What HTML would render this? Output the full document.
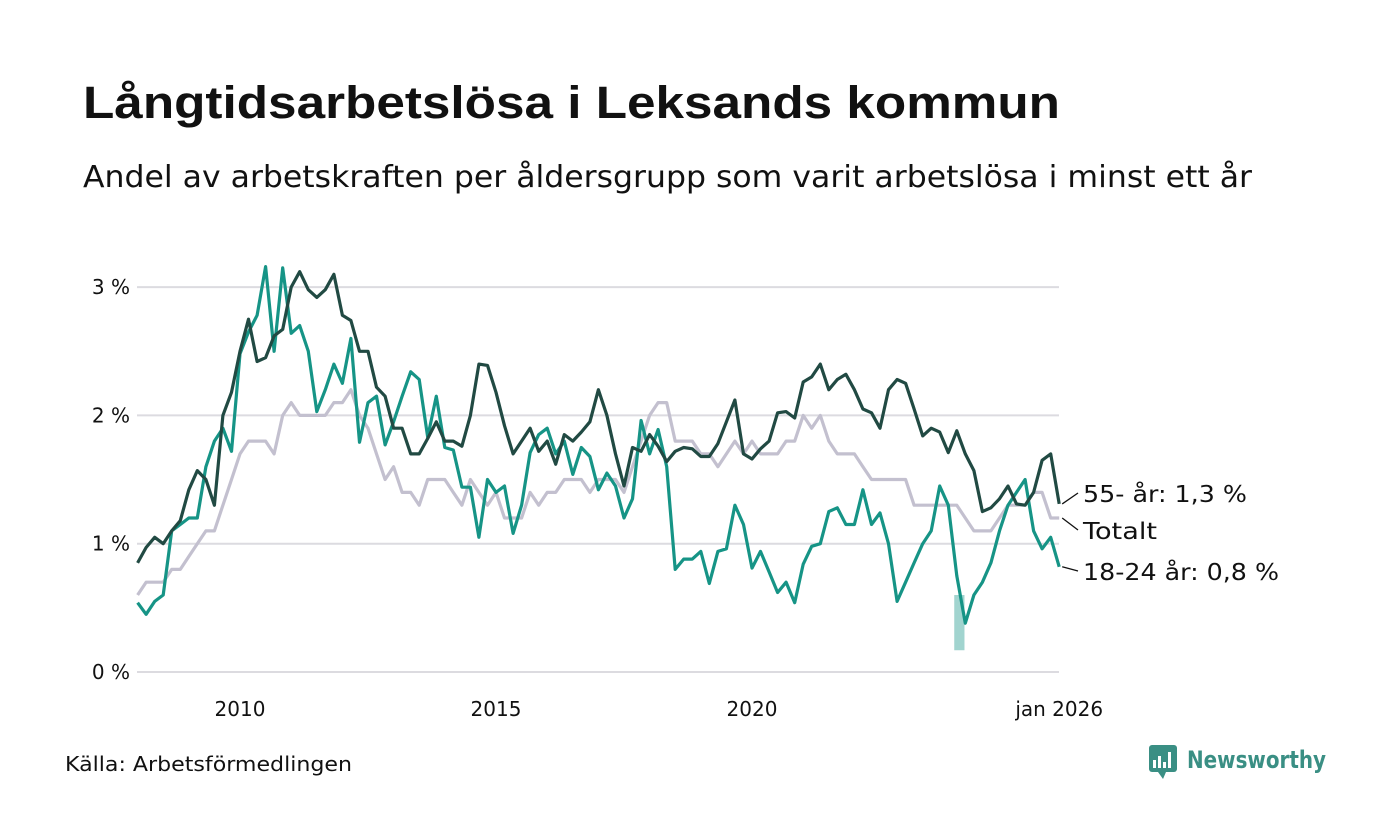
<!DOCTYPE html>
<html><head><meta charset="utf-8"><style>
body{margin:0;background:#fff;}
svg{display:block;font-family:"DejaVu Sans","Liberation Sans",sans-serif;}
</style></head><body>
<svg id="chart" width="1400" height="840" viewBox="0 0 1400 840">
<rect width="1400" height="840" fill="#fff"/>
<text x="83" y="118" font-size="45" font-weight="bold" fill="#111" font-family="Liberation Sans, sans-serif" textLength="977" lengthAdjust="spacingAndGlyphs">Långtidsarbetslösa i Leksands kommun</text>
<text x="83" y="187" font-size="30" fill="#111" textLength="1169" lengthAdjust="spacingAndGlyphs">Andel av arbetskraften per åldersgrupp som varit arbetslösa i minst ett år</text>
<g id="grid"></g>
<g id="yticks"></g>
<g id="xticks"></g>
<g id="band"></g>
<g id="lines"></g>
<g id="labels"></g>
<text x="65" y="771" font-size="20" fill="#111" textLength="287" lengthAdjust="spacingAndGlyphs">Källa: Arbetsförmedlingen</text>
<g>
<rect x="1149" y="745" width="28" height="27" rx="3" fill="#3a8f84"/>
<path d="M1158 772 L1163 779 L1166 772 Z" fill="#3a8f84"/>
<rect x="1153" y="760" width="3" height="8" fill="#fff"/><rect x="1158" y="756" width="3" height="12" fill="#fff"/><rect x="1163" y="762" width="3" height="6" fill="#fff"/><rect x="1168" y="752" width="3" height="16" fill="#fff"/>
<text x="1187" y="768" font-size="24" font-weight="bold" fill="#3a8f84" textLength="139" lengthAdjust="spacingAndGlyphs">Newsworthy</text>
</g>
</svg>
<script>
const yTicks=[0,1,2,3];
const yTickLabels=["0 %","1 %","2 %","3 %"];
const xTicks=[2010,2015,2020,2026];
const xTickLabels=["2010","2015","2020","jan 2026"];
const startYear=2008, stepYears=1/6;
const totalt=[0.6,0.7,0.7,0.7,0.8,0.8,0.9,1.0,1.1,1.1,1.3,1.5,1.7,1.8,1.8,1.8,1.7,2.0,2.1,2.0,2.0,2.0,2.0,2.1,2.1,2.2,2.0,1.9,1.7,1.5,1.6,1.4,1.4,1.3,1.5,1.5,1.5,1.4,1.3,1.5,1.4,1.3,1.4,1.2,1.2,1.2,1.4,1.3,1.4,1.4,1.5,1.5,1.5,1.4,1.5,1.5,1.5,1.4,1.6,1.8,2.0,2.1,2.1,1.8,1.8,1.8,1.7,1.7,1.6,1.7,1.8,1.7,1.8,1.7,1.7,1.7,1.8,1.8,2.0,1.9,2.0,1.8,1.7,1.7,1.7,1.6,1.5,1.5,1.5,1.5,1.5,1.3,1.3,1.3,1.3,1.3,1.3,1.2,1.1,1.1,1.1,1.2,1.3,1.3,1.3,1.4,1.4,1.2,1.2];
const age55=[0.85,0.97,1.05,1.0,1.1,1.18,1.42,1.57,1.5,1.3,2.0,2.18,2.5,2.75,2.42,2.45,2.62,2.67,3.0,3.12,2.98,2.92,2.98,3.1,2.78,2.74,2.5,2.5,2.22,2.15,1.9,1.9,1.7,1.7,1.82,1.95,1.8,1.8,1.76,2.0,2.4,2.39,2.18,1.92,1.7,1.8,1.9,1.72,1.8,1.62,1.85,1.8,1.87,1.95,2.2,2.0,1.7,1.45,1.75,1.72,1.85,1.76,1.64,1.72,1.75,1.74,1.68,1.68,1.78,1.95,2.12,1.7,1.66,1.74,1.8,2.02,2.03,1.98,2.26,2.3,2.4,2.2,2.28,2.32,2.2,2.05,2.02,1.9,2.2,2.28,2.25,2.05,1.84,1.9,1.87,1.71,1.88,1.7,1.57,1.25,1.28,1.35,1.45,1.31,1.3,1.4,1.65,1.7,1.31];
const age1824=[0.54,0.45,0.55,0.6,1.1,1.15,1.2,1.2,1.6,1.8,1.9,1.72,2.48,2.65,2.78,3.16,2.5,3.15,2.64,2.7,2.5,2.03,2.2,2.4,2.25,2.6,1.79,2.1,2.15,1.77,1.95,2.15,2.34,2.28,1.83,2.15,1.75,1.73,1.44,1.44,1.05,1.5,1.4,1.45,1.08,1.3,1.71,1.85,1.9,1.7,1.8,1.54,1.75,1.68,1.42,1.55,1.45,1.2,1.35,1.96,1.7,1.89,1.6,0.8,0.88,0.88,0.94,0.69,0.94,0.96,1.3,1.15,0.81,0.94,0.78,0.62,0.7,0.54,0.84,0.98,1.0,1.25,1.28,1.15,1.15,1.42,1.15,1.24,1.0,0.55,0.7,0.85,1.0,1.1,1.45,1.3,0.75,0.38,0.6,0.7,0.85,1.1,1.3,1.4,1.5,1.1,0.96,1.05,0.82];
const bandYears=[2023.95,2024.15];
const bandLow=[0.17,0.17];
const bandHigh=[0.6,0.6];
const seriesNames=["Totalt","55- år: 1,3 %","18-24 år: 0,8 %"];

const NS="http://www.w3.org/2000/svg";
const xs=t=>137.6+(t-2008)*51.2;
const ys=v=>672-v*128.3;
const X0=137, X1=1059;
function mk(tag,attrs,parent){const e=document.createElementNS(NS,tag);for(const k in attrs)e.setAttribute(k,attrs[k]);parent.appendChild(e);return e;}
const grid=document.getElementById('grid'),yt=document.getElementById('yticks'),xt=document.getElementById('xticks');
yTicks.forEach((v,i)=>{
  const l=mk('line',{x1:X0,x2:X1,y1:ys(v),y2:ys(v),stroke:'#dcdbe0','stroke-width':2},grid);
  
  
  const t=mk('text',{x:130,y:ys(v)+7,'font-size':20,'text-anchor':'end',fill:'#111'},yt);
  t.textContent=yTickLabels[i];
  
  
});
xTicks.forEach((v,i)=>{
  const t=mk('text',{x:xs(v),y:716,'font-size':20,'text-anchor':'middle',fill:'#111'},xt);
  t.textContent=xTickLabels[i];
  
  
});
const band=document.getElementById('band');
let bp=bandYears.map((t,i)=>xs(t)+','+ys(bandHigh[i])).concat(bandYears.slice().reverse().map((t,i)=>xs(t)+','+ys(bandLow[bandLow.length-1-i])));
const bpoly=mk('polygon',{points:bp.join(' '),fill:'#139486','fill-opacity':0.4},band);


const lines=document.getElementById('lines');
function drawLine(arr,color,name){
  const pts=arr.map((v,i)=>xs(startYear+i*stepYears).toFixed(1)+','+ys(v).toFixed(1)).join(' ');
  const p=mk('polyline',{points:pts,fill:'none',stroke:color,'stroke-width':3.2,'stroke-linejoin':'round'},lines);
  
  
}
drawLine(totalt,'#c3c0cf','line-totalt');
drawLine(age1824,'#169486','line-18-24');
drawLine(age55,'#214a43','line-55');
const labs=document.getElementById('labels');
const endX=xs(startYear+(totalt.length-1)*stepYears);
const lastVals=[totalt[totalt.length-1],age55[age55.length-1],age1824[age1824.length-1]];
const labelY=[539,502,580];
const labelW=[74,164,196];
lastVals.forEach((v,i)=>{
  const l=mk('line',{x1:endX+3,y1:ys(v),x2:1078,y2:labelY[i]-9,stroke:'#111','stroke-width':1.3},labs);
  
  
  const t=mk('text',{x:1083,y:labelY[i],'font-size':23,fill:'#111',textLength:labelW[i],lengthAdjust:'spacingAndGlyphs'},labs);
  t.textContent=seriesNames[i];
  
  
});
</script>
</body></html>
